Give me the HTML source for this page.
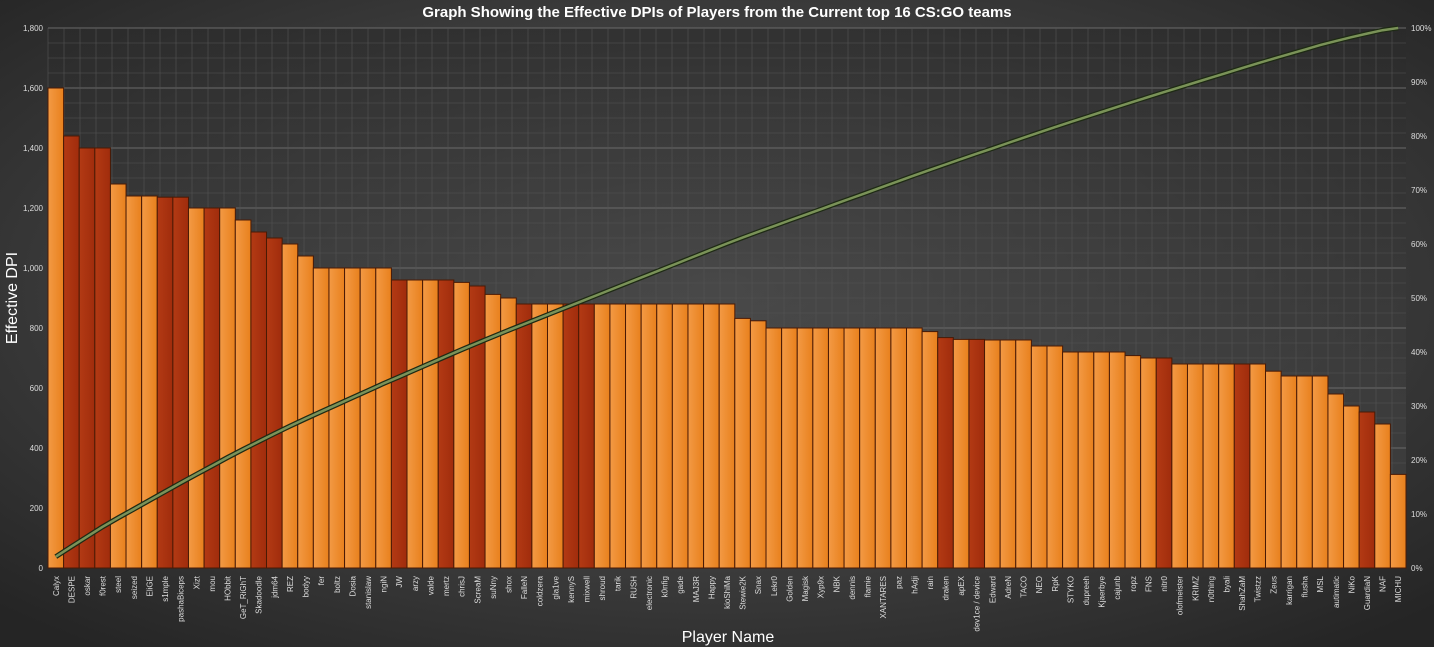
<!DOCTYPE html>
<html><head><meta charset="utf-8"><style>
html,body{margin:0;padding:0;width:1434px;height:647px;overflow:hidden;background:#3a3a3a;}
svg{display:block;font-family:"Liberation Sans",sans-serif;}
</style></head><body>
<svg id="chart" width="1434" height="647" viewBox="0 0 1434 647" xmlns="http://www.w3.org/2000/svg">
<defs>
<radialGradient id="bg" cx="50%" cy="45%" r="70%"><stop offset="0" stop-color="#5e5e5e"/><stop offset="1" stop-color="#252525"/></radialGradient>
<linearGradient id="plotbg" x1="0" y1="0" x2="0" y2="1"><stop offset="0" stop-color="#2a2a2a"/><stop offset="1" stop-color="#4a4a4a"/></linearGradient>
<linearGradient id="orange" x1="0" y1="0" x2="1" y2="0"><stop offset="0" stop-color="#f39a45"/><stop offset="1" stop-color="#e8801c"/></linearGradient>
<linearGradient id="dark" x1="0" y1="0" x2="1" y2="0"><stop offset="0" stop-color="#b33a14"/><stop offset="1" stop-color="#a02c0c"/></linearGradient>
</defs>
<rect width="1434" height="647" fill="url(#bg)"/>
<rect x="48" y="28" width="1358" height="540" fill="url(#plotbg)" opacity="0.6"/>
<g id="grid"></g><g id="bars"></g><g id="line"></g><g id="axes"></g>
<text x="717" y="17" text-anchor="middle" font-size="15" font-weight="bold" fill="#ffffff">Graph Showing the Effective DPIs of Players from the Current top 16 CS:GO teams</text>
<text x="17" y="298" text-anchor="middle" font-size="16" fill="#ffffff" transform="rotate(-90 17 298)">Effective DPI</text>
<text x="728" y="642" text-anchor="middle" font-size="16" fill="#ffffff">Player Name</text>
</svg>
<script>
const players=["Calyx","DESPE","oskar","f0rest","steel","seized","EliGE","s1mple","pashaBiceps","Xizt","mou","HObbit","GeT_RiGhT","Skadoodle","jdm64","REZ","bodyy","fer","boltz","Dosia","stanislaw","ngiN","JW","arzy","valde","mertz","chrisJ","ScreaM","suNny","shox","FalleN","coldzera","gla1ve","kennyS","mixwell","shroud","tarik","RUSH","electronic","k0nfig","gade","MAJ3R","Happy","kioShiMa","Stewie2K","Snax","Lekr0","Golden","Magisk","Xyp9x","NBK","dennis","flamie","XANTARES","paz","hAdji","rain","draken","apEX","dev1ce / device","Edward","AdreN","TACO","NEO","RpK","STYKO","dupreeh","Kjaerbye","cajunb","ropz","FNS","nitr0","olofmeister","KRIMZ","n0thing","byali","ShahZaM","Twistzz","Zeus","karrigan","flusha","MSL","autimatic","NiKo","GuardiaN","NAF","MICHU"];
const dpi=[1600,1440,1400,1400,1280,1240,1240,1236,1236,1200,1200,1200,1160,1120,1100,1080,1040,1000,1000,1000,1000,1000,960,960,960,960,952,940,912,900,880,880,880,880,880,880,880,880,880,880,880,880,880,880,832,824,800,800,800,800,800,800,800,800,800,800,788,768,762,762,760,760,760,740,740,720,720,720,720,708,700,700,680,680,680,680,680,680,656,640,640,640,580,540,520,480,312];
const highlighted=["DESPE","oskar","f0rest","s1mple","pashaBiceps","mou","Skadoodle","jdm64","JW","mertz","ScreaM","FalleN","kennyS","mixwell","draken","dev1ce / device","nitr0","ShahZaM","GuardiaN"];
const yTicks=[0,200,400,600,800,1000,1200,1400,1600,1800];
const pctTicks=[0,10,20,30,40,50,60,70,80,90,100];
const X0=48,X1=1406,Y0=568,Y1=28,YMAX=1800;
const NS="http://www.w3.org/2000/svg";
const bw=(X1-X0)/players.length;
const xs=i=>X0+i*bw;
const ys=v=>Y0-(v/YMAX)*(Y0-Y1);
const yp=p=>Y0-(p/100)*(Y0-Y1);
function mk(tag,parent,attrs){const e=document.createElementNS(NS,tag);for(const k in attrs)e.setAttribute(k,attrs[k]);parent.appendChild(e);return e;}
const grid=document.getElementById('grid'),bars=document.getElementById('bars'),line=document.getElementById('line'),axes=document.getElementById('axes');
for(let v=0;v<=YMAX;v+=50){const l=mk('line',grid,{x1:X0,x2:X1,y1:ys(v),y2:ys(v),stroke:v%200===0?'#6a6a6a':'#545454','stroke-width':v%200===0?1:0.6});

}
for(let x=X0;x<=X1;x+=16){const l=mk('line',grid,{x1:x,x2:x,y1:Y1,y2:Y0,stroke:'#545454','stroke-width':0.6});

}
const total=dpi.reduce((a,b)=>a+b,0);let cum=0;const pts=[];
players.forEach((p,i)=>{
 const r=mk('rect',bars,{x:xs(i),y:ys(dpi[i]),width:bw,height:Y0-ys(dpi[i]),fill:highlighted.includes(p)?'url(#dark)':'url(#orange)',stroke:'#4a1a05','stroke-width':1});
 
 
 const cx=xs(i)+bw/2;
 const t=mk('text',axes,{x:cx+3,y:576,'font-size':8,fill:'#ddd','text-anchor':'end',transform:`rotate(-90 ${cx+3} 576)`});
 t.textContent=p;
 
 
 cum+=dpi[i];pts.push([cx,yp(cum/total*100)]);
});
const d='M'+pts.map(p=>p[0].toFixed(1)+','+p[1].toFixed(1)).join('L');
const sh=mk('path',line,{d:d,fill:'none',stroke:'#1e2a14','stroke-width':5});


const pl=mk('path',line,{d:d,fill:'none',stroke:'#7a9258','stroke-width':2.5});


yTicks.forEach(v=>{const t=mk('text',axes,{x:43,y:ys(v)+3,'font-size':8,fill:'#ddd','text-anchor':'end'});t.textContent=v.toLocaleString('en-US');

});
pctTicks.forEach(v=>{const t=mk('text',axes,{x:1411,y:yp(v)+3,'font-size':8,fill:'#ddd'});t.textContent=v+'%';

});
</script>
</body></html>
